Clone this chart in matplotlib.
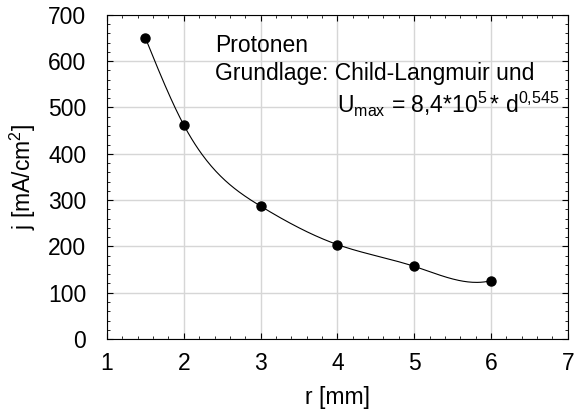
import numpy as np
import matplotlib
matplotlib.use("Agg")
import matplotlib.pyplot as plt
from matplotlib.ticker import MultipleLocator

plt.rcParams["font.family"] = ["Liberation Sans", "DejaVu Sans"]
plt.rcParams["mathtext.fontset"] = "custom"
plt.rcParams["mathtext.rm"] = "Liberation Sans"
plt.rcParams["mathtext.it"] = "Liberation Sans"

# data
r_mm = [1.5, 2, 3, 4, 5, 6]
j_ma = [650, 462, 287, 204, 157, 126]

FS = 16.5


def spline(x, y, xs, end_slope=0.0):
    # cubic spline: natural at the left end, clamped slope at the right end
    x = np.asarray(x, float)
    y = np.asarray(y, float)
    n = len(x)
    h = np.diff(x)
    A = np.zeros((n, n))
    b = np.zeros(n)
    A[0, 0] = 1
    A[-1, -2], A[-1, -1] = h[-1], 2 * h[-1]
    b[-1] = 3 * (end_slope - (y[-1] - y[-2]) / h[-1])
    for i in range(1, n - 1):
        A[i, i - 1] = h[i - 1]
        A[i, i] = 2 * (h[i - 1] + h[i])
        A[i, i + 1] = h[i]
        b[i] = 3 * ((y[i + 1] - y[i]) / h[i] - (y[i] - y[i - 1]) / h[i - 1])
    c = np.linalg.solve(A, b)
    idx = np.clip(np.searchsorted(x, xs) - 1, 0, n - 2)
    dx = xs - x[idx]
    bb = (y[idx + 1] - y[idx]) / h[idx] - h[idx] * (2 * c[idx] + c[idx + 1]) / 3
    d = (c[idx + 1] - c[idx]) / (3 * h[idx])
    return y[idx] + bb * dx + c[idx] * dx ** 2 + d * dx ** 3


fig = plt.figure(figsize=(5.8, 4.12), dpi=100)
ax = fig.add_axes([0.1845, 0.177, 0.7945, 0.787])

xs = np.linspace(r_mm[0], r_mm[-1], 300)
ax.plot(xs, spline(r_mm, j_ma, xs, end_slope=40), color="black", lw=0.8, zorder=3)
ax.plot(r_mm, j_ma, "o", color="black", ms=6.5, zorder=4)

ax.set_xlim(1, 7)
ax.set_ylim(0, 700)
ax.xaxis.set_major_locator(MultipleLocator(1))
ax.xaxis.set_minor_locator(MultipleLocator(0.2))
ax.yaxis.set_major_locator(MultipleLocator(100))
ax.yaxis.set_minor_locator(MultipleLocator(20))
ax.tick_params(which="both", direction="in", top=True, right=True, labelsize=FS)
ax.tick_params(which="major", length=4, width=0.8)
ax.tick_params(which="minor", length=2, width=0.6)
ax.tick_params(axis="x", pad=9)
ax.tick_params(axis="y", pad=15)
ax.grid(True, which="major", color="#d6d6d6", lw=1)
ax.set_axisbelow(True)
for s in ax.spines.values():
    s.set_linewidth(0.8)

ax.set_xlabel("r [mm]", fontsize=FS, labelpad=8)
ax.set_ylabel("j [mA/cm$^2$]", fontsize=FS, labelpad=7)

ax.text(0.235, 0.905, "Protonen", transform=ax.transAxes, fontsize=FS, va="center")
ax.text(0.235, 0.818, "Grundlage: Child-Langmuir und", transform=ax.transAxes,
        fontsize=FS, va="center")
ax.text(0.499, 0.725, r"U$_{\mathrm{max}}$ = 8,4*10$^{5}\,$* d$^{0{,}545}$",
        transform=ax.transAxes, fontsize=FS, va="center", ha="left")

fig.savefig("out.png", dpi=100)
